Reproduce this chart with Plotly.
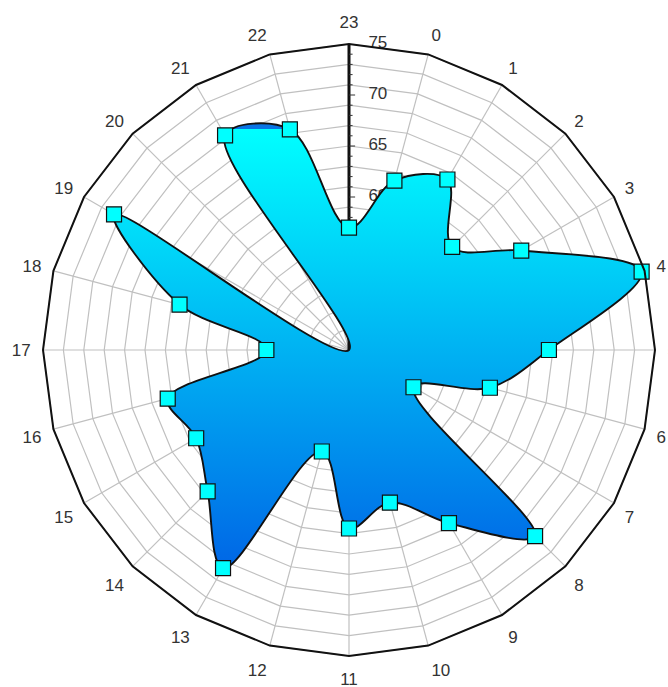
import math
import plotly.graph_objects as go

hours = [str(h) for h in range(24)]
values = [62.2, 64.3, 59.3, 64.5, 74.7, 64.6, 59.3, 52.3, 70.8, 64.6, 60.5, 62.5,
          55.3, 69.7, 64.6, 62.3, 63.4, 53.1, 62.2, 71.6, 45.0, 69.3, 67.4, 57.0]
angle_order = ['23'] + [str(h) for h in range(23)]
radial_labels = [60, 65, 70, 75]
grid_vals = list(range(47, 76, 2))
r_min, r_max = 45, 75

# loop order for the closed outline (start at the centre spike so the seam is hidden)
start = hours.index('20')
loop_idx = list(range(start, 24)) + list(range(0, start + 1))

def ang(cat):
    return math.radians(angle_order.index(cat) * 360 / len(angle_order))

def xy(cat, v):
    d = v - r_min
    a = ang(cat)
    return d * math.sin(a), d * math.cos(a)

span = r_max - r_min
fig = go.Figure()

# ---- grid (under the fill), in a cartesian overlay matching the polar frame
gx, gy = [], []
for g in grid_vals:
    for c in angle_order + [angle_order[0]]:
        x, y = xy(c, g)
        gx.append(x); gy.append(y)
    gx.append(None); gy.append(None)
for c in angle_order:
    x, y = xy(c, r_max)
    gx += [0, x, None]; gy += [0, y, None]
fig.add_trace(go.Scatter(x=gx, y=gy, mode='lines', line=dict(color='#C0C0C0', width=1.2),
                         hoverinfo='skip', showlegend=False, cliponaxis=False))

# radial axis line and its ticks (also under the fill)
fig.add_trace(go.Scatter(x=[0, 0], y=[0, span], mode='lines',
                         line=dict(color='#111111', width=3),
                         hoverinfo='skip', showlegend=False, cliponaxis=False))
tx, ty = [], []
for t in range(r_min, r_max + 1):
    ln = 0.6 if t % 5 == 0 else 0.35
    tx += [0, ln, None]; ty += [t - r_min, t - r_min, None]
fig.add_trace(go.Scatter(x=tx, y=ty, mode='lines', line=dict(color='#333333', width=1),
                         hoverinfo='skip', showlegend=False, cliponaxis=False))

# radial tick labels
fig.add_trace(go.Scatter(
    x=[1.9] * len(radial_labels), y=[v - r_min for v in radial_labels],
    mode='text', text=[str(v) for v in radial_labels], textposition='middle right',
    textfont=dict(family='Arial', size=17, color='#333333'),
    hoverinfo='skip', showlegend=False, cliponaxis=False))

# gradient fill of the series
fx, fy = [], []
for i in loop_idx:
    x, y = xy(hours[i], values[i])
    fx.append(x); fy.append(y)
y_lo, y_hi = min(fy), max(fy)
stop = span
step = (y_hi - y_lo) / (stop - y_lo)
fig.add_trace(go.Scatter(
    x=fx, y=fy, mode='lines', fill='toself',
    line=dict(color='rgba(0,0,0,0)', width=0, shape='spline', smoothing=1.0),
    fillgradient=dict(type='vertical', start=y_lo, stop=stop,
                      colorscale=[[0, '#0066E6'], [step, '#00FFFF'],
                                  [min(step + 0.0001, 1), '#0A74E4'], [1, '#0A74E4']]),
    hoverinfo='skip', showlegend=False, cliponaxis=False))

# ---- polar: outline, markers, angular axis
fig.add_trace(go.Scatterpolar(
    r=[values[i] for i in loop_idx], theta=[hours[i] for i in loop_idx],
    mode='lines+markers',
    line=dict(color='#111111', width=1.9, shape='spline', smoothing=1.0),
    marker=dict(symbol='square', size=15, color='#00FFFF',
                line=dict(color='#111111', width=1.2)),
    showlegend=False))

dom_x = [43 / 668, 655 / 668]
dom_y = [31 / 687, 643 / 687]
fig.update_layout(
    width=668, height=687,
    margin=dict(l=0, r=0, t=0, b=0),
    paper_bgcolor='white', plot_bgcolor='white',
    font=dict(family='Arial', size=17, color='#333333'),
    xaxis=dict(domain=dom_x, range=[-span, span], visible=False, fixedrange=True),
    yaxis=dict(domain=dom_y, range=[-span, span], visible=False, fixedrange=True),
    polar=dict(
        domain=dict(x=dom_x, y=dom_y),
        bgcolor='rgba(0,0,0,0)',
        gridshape='linear',
        angularaxis=dict(
            type='category', categoryarray=angle_order,
            rotation=90, direction='clockwise',
            showline=True, linecolor='#111111', linewidth=2,
            showgrid=False,
            ticks='outside', ticklen=8, tickcolor='rgba(0,0,0,0)',
            tickfont=dict(family='Arial', size=17, color='#333333')),
        radialaxis=dict(
            range=[r_min, r_max], angle=90,
            showgrid=False, showline=False, showticklabels=False, ticks=''),
    ),
)

fig.write_html('out.html', config={'displayModeBar': False},
               post_script="document.body.style.margin='0';document.body.style.overflow='hidden';")
